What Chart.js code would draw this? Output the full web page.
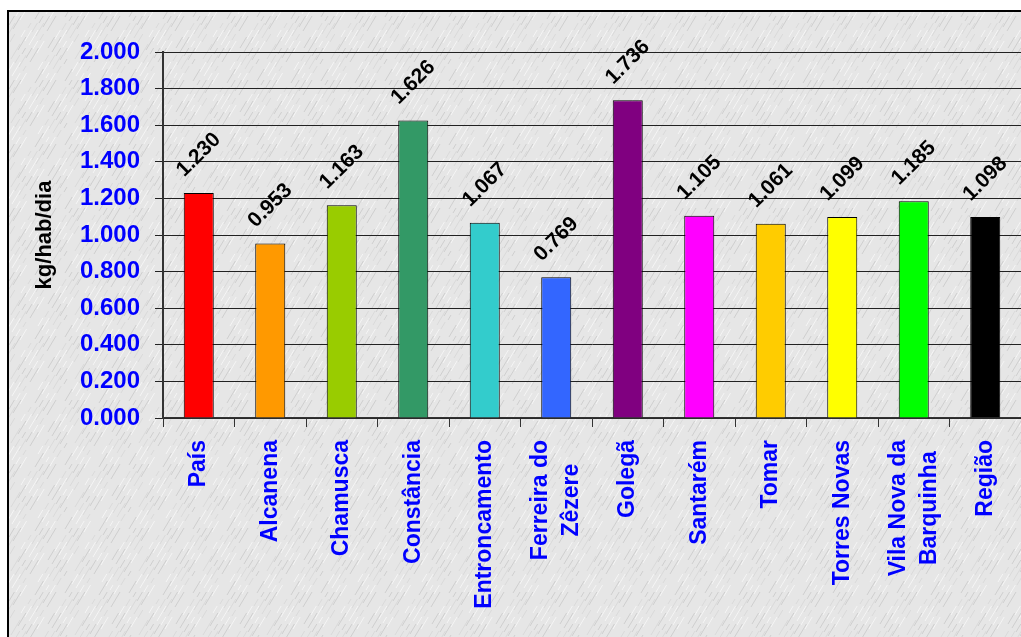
<!DOCTYPE html>
<html>
<head>
<meta charset="utf-8">
<script src="https://cdn.jsdelivr.net/npm/chart.js@4/dist/chart.umd.min.js"></script>
<style>
  html, body { margin: 0; padding: 0; background: #fff; overflow: hidden; }
  canvas { display: block; }
</style>
</head>
<body>
<canvas id="chart" width="1021" height="637"></canvas>
<script>
// Dados do gráfico
const concelhos = ['País', 'Alcanena', 'Chamusca', 'Constância', 'Entroncamento', ['Ferreira do', 'Zêzere'],
  'Golegã', 'Santarém', 'Tomar', 'Torres Novas', ['Vila Nova da', 'Barquinha'], 'Região'];
const capitacao = [1.230, 0.953, 1.163, 1.626, 1.067, 0.769, 1.736, 1.105, 1.061, 1.099, 1.185, 1.098];
const coresBarras = ['#FF0000', '#FF9900', '#99CC00', '#339966', '#33CCCC', '#3366FF',
  '#800080', '#FF00FF', '#FFCC00', '#FFFF00', '#00FF00', '#000000'];
const eixoY = { min: 0, max: 2, passo: 0.2 };

const FONTE = '"Liberation Sans", Arial, sans-serif';
Chart.defaults.font.family = FONTE;

// Textura tipo mármore (só decoração do fundo)
function criarTextura() {
  const c = document.createElement('canvas');
  c.width = 64; c.height = 64;
  const g = c.getContext('2d');
  g.fillStyle = '#e6e6e6';
  g.fillRect(0, 0, 64, 64);
  for (let i = 0; i < 50; i++) {
    const x = (i * 37) % 64, y = (i * 53) % 64, len = 5 + (i * 7) % 11;
    g.strokeStyle = i % 3 === 0 ? '#cfcfcf' : (i % 3 === 1 ? '#f5f5f5' : '#dadada');
    g.lineWidth = 1;
    for (const dx of [-64, 0, 64]) {
      for (const dy of [-64, 0, 64]) {
        g.beginPath();
        g.moveTo(x + dx, y + dy);
        g.lineTo(x + dx + len * 0.6, y + dy - len);
        g.stroke();
      }
    }
  }
  return c;
}

const fundo = {
  id: 'fundo',
  beforeDraw(chart) {
    const { ctx, width, height } = chart;
    ctx.save();
    ctx.fillStyle = '#fff';
    ctx.fillRect(0, 0, width, height);
    ctx.fillStyle = ctx.createPattern(criarTextura(), 'repeat');
    ctx.fillRect(8, 11, width, height);
    ctx.strokeStyle = '#000';
    ctx.lineWidth = 2;
    ctx.beginPath();
    ctx.moveTo(8, height);
    ctx.lineTo(8, 11);
    ctx.lineTo(width, 11);
    ctx.stroke();
    ctx.restore();
  }
};

// Centra as etiquetas de duas linhas no eixo X
const centrarEtiquetas = {
  id: 'centrarEtiquetas',
  beforeDraw(chart) {
    const ctx = chart.ctx;
    chart.scales.x.getLabelItems().forEach(item => {
      if (!Array.isArray(item.label) || item._ajustado) return;
      ctx.save();
      ctx.font = item.font.string;
      const larg = Math.max(...item.label.map(l => ctx.measureText(l).width));
      ctx.restore();
      item.options.translation[0] -= (item.label.length - 1) * item.font.lineHeight / 2;
      item.options.translation[1] += larg / 2;
      item.options.textAlign = 'center';
      item._ajustado = true;
    });
  }
};

// Valores por cima das barras, a 45 graus
const valores = {
  id: 'valores',
  afterDatasetsDraw(chart) {
    const ctx = chart.ctx;
    chart.getDatasetMeta(0).data.forEach((barra, i) => {
      ctx.save();
      ctx.translate(barra.x, barra.y - 38);
      ctx.rotate(-Math.PI / 4);
      ctx.font = 'bold 21px ' + FONTE;
      ctx.fillStyle = '#000';
      ctx.textAlign = 'center';
      ctx.textBaseline = 'middle';
      ctx.fillText(capitacao[i].toFixed(3), 0, 0);
      ctx.restore();
    });
  }
};

new Chart(document.getElementById('chart'), {
  type: 'bar',
  data: {
    labels: concelhos,
    datasets: [{
      data: capitacao,
      backgroundColor: coresBarras,
      borderColor: '#000',
      borderWidth: 1,
      barPercentage: 0.42,
      categoryPercentage: 1
    }]
  },
  options: {
    responsive: false,
    animation: false,
    layout: { padding: { top: 52, right: 0, bottom: 0, left: 0 } },
    plugins: { legend: { display: false }, tooltip: { enabled: false } },
    scales: {
      x: {
        afterFit: s => { s.height = 637 - 418; s.paddingLeft = 0; s.paddingRight = 0; },
        grid: { drawOnChartArea: false, drawTicks: true, tickLength: 9, color: '#333', offset: true },
        border: { display: true, color: '#333', width: 1.5 },
        ticks: {
          autoSkip: false, maxRotation: 90, minRotation: 90, padding: 13,
          color: '#0000FF',
          font: { size: 23, weight: 'bold', lineHeight: 1.35 }
        }
      },
      y: {
        min: eixoY.min, max: eixoY.max,
        afterFit: s => { s.width = 163; s.paddingTop = 0; s.paddingBottom = 0; },
        grid: { color: '#222', lineWidth: 1, tickLength: 8 },
        border: { display: true, color: '#333', width: 2 },
        ticks: {
          stepSize: eixoY.passo, padding: 15, color: '#0000FF',
          font: { size: 24, weight: 'bold' },
          callback: v => v.toFixed(3)
        },
        title: {
          display: true, text: 'kg/hab/dia', color: '#000',
          font: { size: 22, weight: 'bold' },
          padding: { top: 32, bottom: 0 }
        }
      }
    }
  },
  plugins: [fundo, centrarEtiquetas, valores]
});
</script>
</body>
</html>
